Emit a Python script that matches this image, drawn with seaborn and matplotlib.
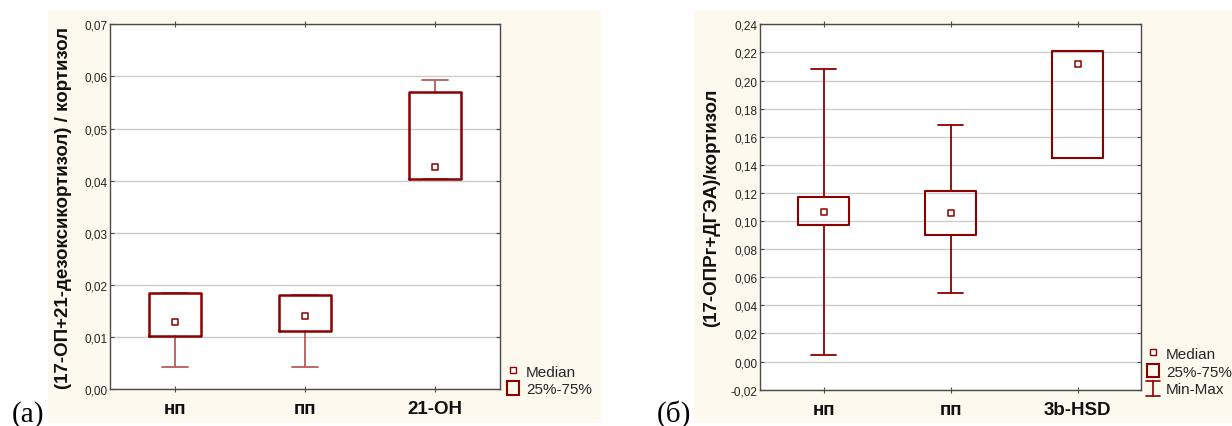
import matplotlib
matplotlib.use("Agg")
import matplotlib.pyplot as plt
import seaborn as sns
from matplotlib.patches import Rectangle
from matplotlib.lines import Line2D
from matplotlib.legend_handler import HandlerBase

# ---------------- data ----------------
groups_a = ["нп", "пп", "21-OH"]
med_a = [0.0129, 0.0140, 0.0427]
q1_a = [0.0101, 0.0111, 0.0404]
q3_a = [0.0184, 0.0180, 0.0571]
min_a = [0.0042, 0.0042, 0.0403]
max_a = [0.0184, 0.0180, 0.0594]
yticks_a = [0.00, 0.01, 0.02, 0.03, 0.04, 0.05, 0.06, 0.07]
yticklabels_a = ["0,00", "0,01", "0,02", "0,03", "0,04", "0,05", "0,06", "0,07"]
ylabel_a = "(17-ОП+21-дезоксикортизол) / кортизол"

groups_b = ["нп", "пп", "3b-HSD"]
med_b = [0.1067, 0.1055, 0.2118]
q1_b = [0.0972, 0.0901, 0.1449]
q3_b = [0.1174, 0.1216, 0.2211]
min_b = [0.0045, 0.0486, 0.1449]
max_b = [0.2085, 0.1684, 0.2211]
yticks_b = [-0.02, 0.00, 0.02, 0.04, 0.06, 0.08, 0.10, 0.12, 0.14, 0.16,
            0.18, 0.20, 0.22, 0.24]
yticklabels_b = ["-0,02", "0,00", "0,02", "0,04", "0,06", "0,08", "0,10",
                 "0,12", "0,14", "0,16", "0,18", "0,20", "0,22", "0,24"]
ylabel_b = "(17-ОПРг+ДГЭА)/кортизол"

legend_a = ["Median", "25%-75%"]
legend_b = ["Median", "25%-75%", "Min-Max"]

# ---------------- style ----------------
sns.set_theme(style="white")
plt.rcParams["font.family"] = ["Liberation Sans", "DejaVu Sans"]

RED = "#8b0000"
BEIGE = "#fef9ee"
SPINE = "#4a4a4a"
GRID = "#cccccc"


class IBeamHandler(HandlerBase):
    def create_artists(self, legend, orig_handle, xdescent, ydescent,
                       width, height, fontsize, trans):
        cx = -xdescent + width / 2.0
        y0 = -ydescent - 1
        y1 = -ydescent + height
        hw = width * 0.6
        col = orig_handle.get_color()
        v = Line2D([cx, cx], [y0, y1], color=col, lw=1.2, transform=trans)
        b = Line2D([cx - hw, cx + hw], [y0, y0], color=col, lw=1.2, transform=trans)
        t = Line2D([cx - hw, cx + hw], [y1, y1], color=col, lw=1.2, transform=trans)
        return [v, b, t]


fig = plt.figure(figsize=(12.32, 4.27), dpi=100)
fig.patch.set_facecolor("white")
for (x0, w) in [(48 / 1232, 553 / 1232), (694 / 1232, 538 / 1232)]:
    fig.patches.append(Rectangle((x0, 3 / 427), w, 413 / 427,
                                 transform=fig.transFigure, facecolor=BEIGE,
                                 edgecolor="none", zorder=-5))

ax_a = fig.add_axes([110 / 1232, 37 / 427, 390 / 1232, 364.7 / 427])
ax_b = fig.add_axes([760 / 1232, 36.3 / 427, 381 / 1232, 365.4 / 427])


def panel(ax, groups, med, q1, q3, lo, hi, yticks, yticklabels, ylabel,
          whisker_color, box_lw, label_x):
    pos = list(range(len(groups)))
    stats = [dict(med=m, q1=a, q3=b, whislo=l, whishi=h, fliers=[])
             for m, a, b, l, h in zip(med, q1, q3, lo, hi)]
    ax.set_facecolor("white")
    ax.set_axisbelow(True)
    ax.yaxis.grid(True, color=GRID, lw=1.0)
    ax.xaxis.grid(False)
    ax.bxp(stats, positions=pos, widths=0.4, capwidths=0.2,
           showfliers=False, manage_ticks=False,
           boxprops=dict(color=RED, linewidth=box_lw, zorder=3),
           whiskerprops=dict(color=whisker_color, linewidth=1.3, zorder=2),
           capprops=dict(color=whisker_color, linewidth=1.3, zorder=2),
           medianprops=dict(linewidth=0))
    sns.scatterplot(x=pos, y=med, marker="s", s=20, facecolor="white",
                    edgecolor=RED, linewidth=1.1, ax=ax, zorder=5,
                    legend=False)
    ax.set_xlim(-0.5, len(groups) - 0.5)
    ax.set_ylim(yticks[0], yticks[-1])
    ax.set_xticks(pos)
    ax.set_xticklabels(groups, fontsize=13.5, fontweight="bold", color="#111111")
    ax.set_yticks(yticks)
    ax.set_yticklabels(yticklabels, fontsize=8.5, color="#222222")
    ax.tick_params(axis="x", direction="inout", length=4, width=0.8,
                   color=SPINE, top=True, bottom=True, pad=6)
    ax.tick_params(axis="y", direction="in", length=3, width=0.8,
                   color=SPINE, left=True, right=True, pad=2)
    for s in ax.spines.values():
        s.set_color(SPINE)
        s.set_linewidth(1.0)
        s.set_visible(True)
    ax.set_xlabel("")
    ax.set_ylabel(ylabel, fontsize=13.5, fontweight="bold", color="#111111")
    ax.yaxis.set_label_coords(label_x, 0.5)


panel(ax_a, groups_a, med_a, q1_a, q3_a, min_a, max_a, yticks_a,
      yticklabels_a, ylabel_a, "#b85c5c", 1.8, -0.097)
panel(ax_b, groups_b, med_b, q1_b, q3_b, min_b, max_b, yticks_b,
      yticklabels_b, ylabel_b, RED, 1.5, -0.105)

# legends
h_med = Line2D([], [], marker="s", ls="", markerfacecolor="white",
               markeredgecolor=RED, markersize=4.5, markeredgewidth=1.0)
h_box = Rectangle((0, 0), 1, 1, facecolor="none", edgecolor=RED, lw=1.5)
h_mm = Line2D([], [], color=RED)

leg_kw = dict(frameon=False, fontsize=11, handlelength=0.8, handleheight=1.0,
              handletextpad=0.45, labelspacing=0.15, borderpad=0,
              borderaxespad=0, loc="lower left",
              bbox_transform=fig.transFigure)

ax_a.legend([h_med, h_box], legend_a, bbox_to_anchor=(507 / 1232, 30 / 427),
            **leg_kw)
ax_b.legend([h_med, h_box, h_mm], legend_b,
            bbox_to_anchor=(1147 / 1232, 30 / 427),
            handler_map={h_mm: IBeamHandler()}, **leg_kw)

# panel letters
fig.text(12 / 1232, 5 / 427, "(а)", family="Liberation Serif", fontsize=21,
         va="baseline", ha="left", color="black")
fig.text(657 / 1232, 5 / 427, "(б)", family="Liberation Serif", fontsize=21,
         va="baseline", ha="left", color="black")

fig.savefig("out.png", dpi=100, facecolor="white")
